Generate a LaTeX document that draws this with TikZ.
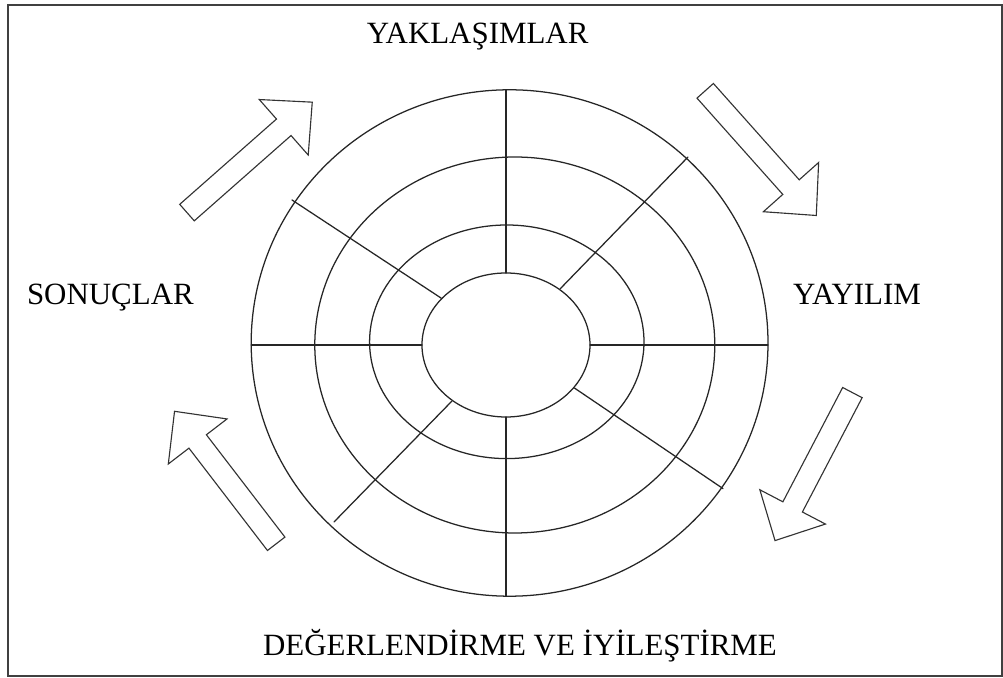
\documentclass[tikz,border=0pt]{standalone}
\usepackage{fontspec}
\setmainfont{Liberation Serif}

\begin{document}
\begin{tikzpicture}[line cap = round, line join = round]
\tikzstyle{ring}=[draw=black!85, line width=0.9pt]
\tikzstyle{spoke}=[draw=black!85, line width=0.9pt]
\tikzstyle{blockarrow}=[draw=black!80, line width=0.8pt, fill=white, line join=miter]
\tikzstyle{title}=[font=\fontsize{22}{26}\selectfont, anchor=base, inner sep=0pt]
\useasboundingbox (-12.65,-8.325) rectangle (12.425,8.625);
\draw[line width=1.3pt, color=black!75, line join=miter] (-12.45,8.5) rectangle (12.4,-8.275);

% rings
\coordinate (O) at (0,0);
\draw[ring] (0.09,0.05) ellipse (6.46 and 6.33);
\draw[ring] (0.22,0) ellipse (5.0 and 4.7);
\draw[ring] (0.02,0.08) ellipse (3.43 and 2.92);
\draw[ring] (O) ellipse (2.1 and 1.8);

% spokes
\coordinate (W1) at (-6.37,0);   \coordinate (W2) at (-2.1,0);
\coordinate (E1) at (6.55,0);    \coordinate (E2) at (2.1,0);
\coordinate (N1) at (0,6.38);    \coordinate (N2) at (0,1.8);
\coordinate (S1) at (0,-6.28);   \coordinate (S2) at (0,-1.8);
\coordinate (NW1) at (-5.35,3.625); \coordinate (NW2) at (-1.625,1.175);
\coordinate (NE1) at (4.55,4.7);    \coordinate (NE2) at (1.35,1.4);
\coordinate (SE1) at (5.425,-3.59); \coordinate (SE2) at (1.71,-1.075);
\coordinate (SW1) at (-4.3,-4.425); \coordinate (SW2) at (-1.35,-1.4);
\draw[spoke] (W1) -- (W2);
\draw[spoke] (E2) -- (E1);
\draw[spoke] (N1) -- (N2);
\draw[spoke] (S2) -- (S1);
\draw[spoke] (NW1) -- (NW2);
\draw[spoke] (NE2) -- (NE1);
\draw[spoke] (SE2) -- (SE1);
\draw[spoke] (SW2) -- (SW1);

% labels
\node[title] (yaklasim) at (-0.71,7.54) {YAKLAŞIMLAR};
\node[title] (yayilim) at (8.775,1.01) {YAYILIM};
\node[title] (degerlendirme) at (0.35,-7.775) {DEĞERLENDİRME VE İYİLEŞTİRME};
\node[title] (sonuc) at (-9.89,1.01) {SONUÇLAR};

% block arrows
\draw[blockarrow, shift={(-7.975,3.31)}, rotate=41.4] (0,-0.275) -- (3.225,-0.275) -- (3.225,-0.925) -- (4.175,0) -- (3.225,0.925) -- (3.225,0.275) -- (0,0.275) -- cycle;
\draw[blockarrow, shift={(4.98,6.355)}, rotate=-48.3] (0,-0.275) -- (3.225,-0.275) -- (3.225,-0.925) -- (4.175,0) -- (3.225,0.925) -- (3.225,0.275) -- (0,0.275) -- cycle;
\draw[blockarrow, shift={(8.66,-1.19)}, rotate=-117.6] (0,-0.275) -- (3.225,-0.275) -- (3.225,-0.925) -- (4.175,0) -- (3.225,0.925) -- (3.225,0.275) -- (0,0.275) -- cycle;
\draw[blockarrow, shift={(-5.745,-4.97)}, rotate=127.5] (0,-0.275) -- (3.225,-0.275) -- (3.225,-0.925) -- (4.175,0) -- (3.225,0.925) -- (3.225,0.275) -- (0,0.275) -- cycle;
\end{tikzpicture}
\end{document}
